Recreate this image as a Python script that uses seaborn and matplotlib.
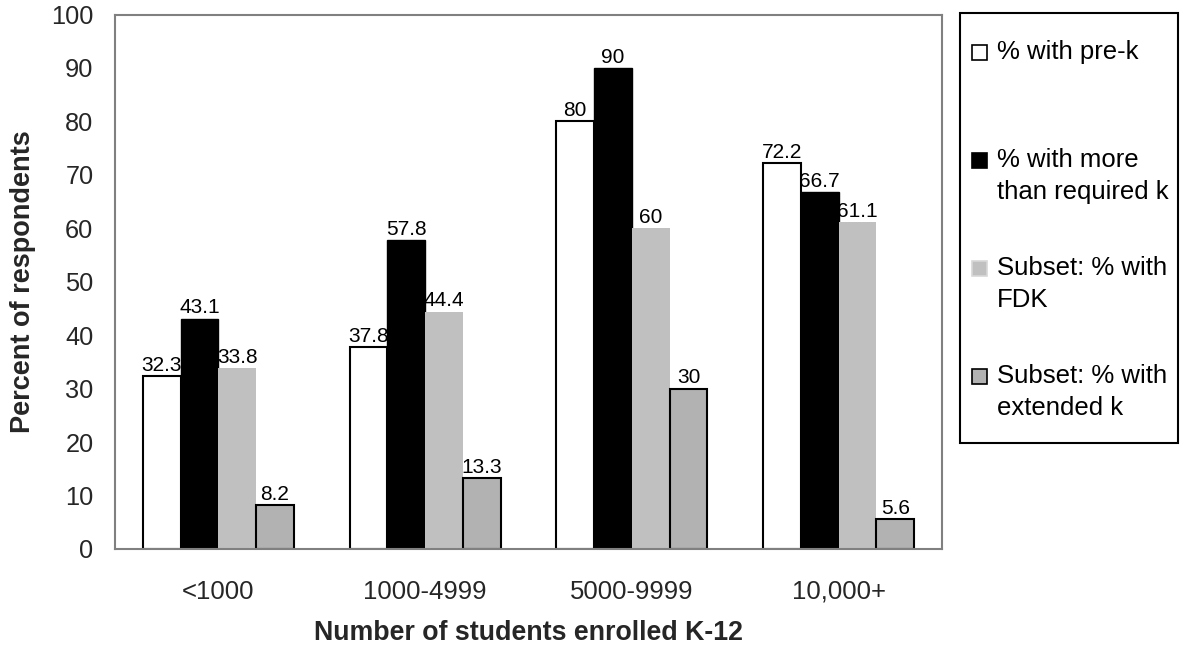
import matplotlib
matplotlib.use("Agg")
import matplotlib.pyplot as plt
from matplotlib.patches import Rectangle
import pandas as pd
import seaborn as sns

# Chart data
categories = ["<1000", "1000-4999", "5000-9999", "10,000+"]
series_names = [
    "% with pre-k",
    "% with more\nthan required k",
    "Subset: % with\nFDK",
    "Subset: % with\nextended k",
]
pre_k = [32.3, 37.8, 80, 72.2]
more_than_required_k = [43.1, 57.8, 90, 66.7]
fdk = [33.8, 44.4, 60, 61.1]
extended_k = [8.2, 13.3, 30, 5.6]
y_ticks = [0, 10, 20, 30, 40, 50, 60, 70, 80, 90, 100]

# Styling per series
fill_colors = ["#FFFFFF", "#000000", "#C0C0C0", "#B2B2B2"]
edge_colors = ["#000000", "#000000", "#C0C0C0", "#000000"]
edge_widths = [1.5, 1.0, 0.0, 1.5]

values = [pre_k, more_than_required_k, fdk, extended_k]
rows = []
for name, vals in zip(series_names, values):
    for cat, v in zip(categories, vals):
        rows.append({"size": cat, "series": name, "value": v})
df = pd.DataFrame(rows)

sns.set_style("white")
plt.rcParams["font.family"] = ["Liberation Sans", "DejaVu Sans"]

W, H = 1188, 649
fig = plt.figure(figsize=(W / 100, H / 100), dpi=100)
ax = fig.add_axes([115 / W, (H - 549) / H, (942 - 115) / W, (549 - 14.5) / H])

sns.barplot(
    data=df, x="size", y="value", hue="series",
    order=categories, hue_order=series_names,
    palette=fill_colors, width=0.73, gap=0, dodge=True,
    saturation=1, legend=False, ax=ax, errorbar=None,
)

for cont, ec, lw in zip(ax.containers, edge_colors, edge_widths):
    for bar in cont:
        bar.set_edgecolor(ec)
        bar.set_linewidth(lw)
    ax.bar_label(cont, fmt="%g", padding=1, fontsize=15, color="#000000")

ax.set_ylim(0, 100)
ax.set_xlim(-0.5, len(categories) - 0.5)
ax.set_yticks(y_ticks)
ax.tick_params(axis="y", length=0, pad=15.5, labelsize=18.3)
ax.tick_params(axis="x", length=0, pad=22, labelsize=18.5)

for side in ["left", "right", "top", "bottom"]:
    ax.spines[side].set_visible(True)
    ax.spines[side].set_color("#808080")
    ax.spines[side].set_linewidth(1.5)

ax.set_xlabel("Number of students enrolled K-12", fontsize=19.3,
              fontweight="bold", labelpad=12)
ax.set_ylabel("Percent of respondents", fontsize=19.5,
              fontweight="bold", labelpad=11)

# Legend panel on the right
def fx(px):
    return px / W

def fy(py):
    return 1 - py / H

fig.patches.append(Rectangle((fx(960), fy(443)), fx(1178) - fx(960),
                             fy(13) - fy(443), transform=fig.transFigure,
                             facecolor="white", edgecolor="black",
                             linewidth=1.5))
entry_centers = [52, 160, 268, 376]
line_step = 32
for name, fc, ec, yc in zip(series_names, fill_colors, edge_colors, entry_centers):
    sq_ec = "#000000" if ec == "#000000" else "#D8D8D8"
    fig.patches.append(Rectangle((fx(972), fy(yc + 7.5)), fx(15), 15 / H,
                                 transform=fig.transFigure, facecolor=fc,
                                 edgecolor=sq_ec, linewidth=1.2))
    for i, line in enumerate(name.split("\n")):
        fig.text(fx(997), fy(yc + i * line_step), line, fontsize=18.5,
                 va="center", ha="left", color="#000000")

fig.savefig("out.png", dpi=100, facecolor="white")
